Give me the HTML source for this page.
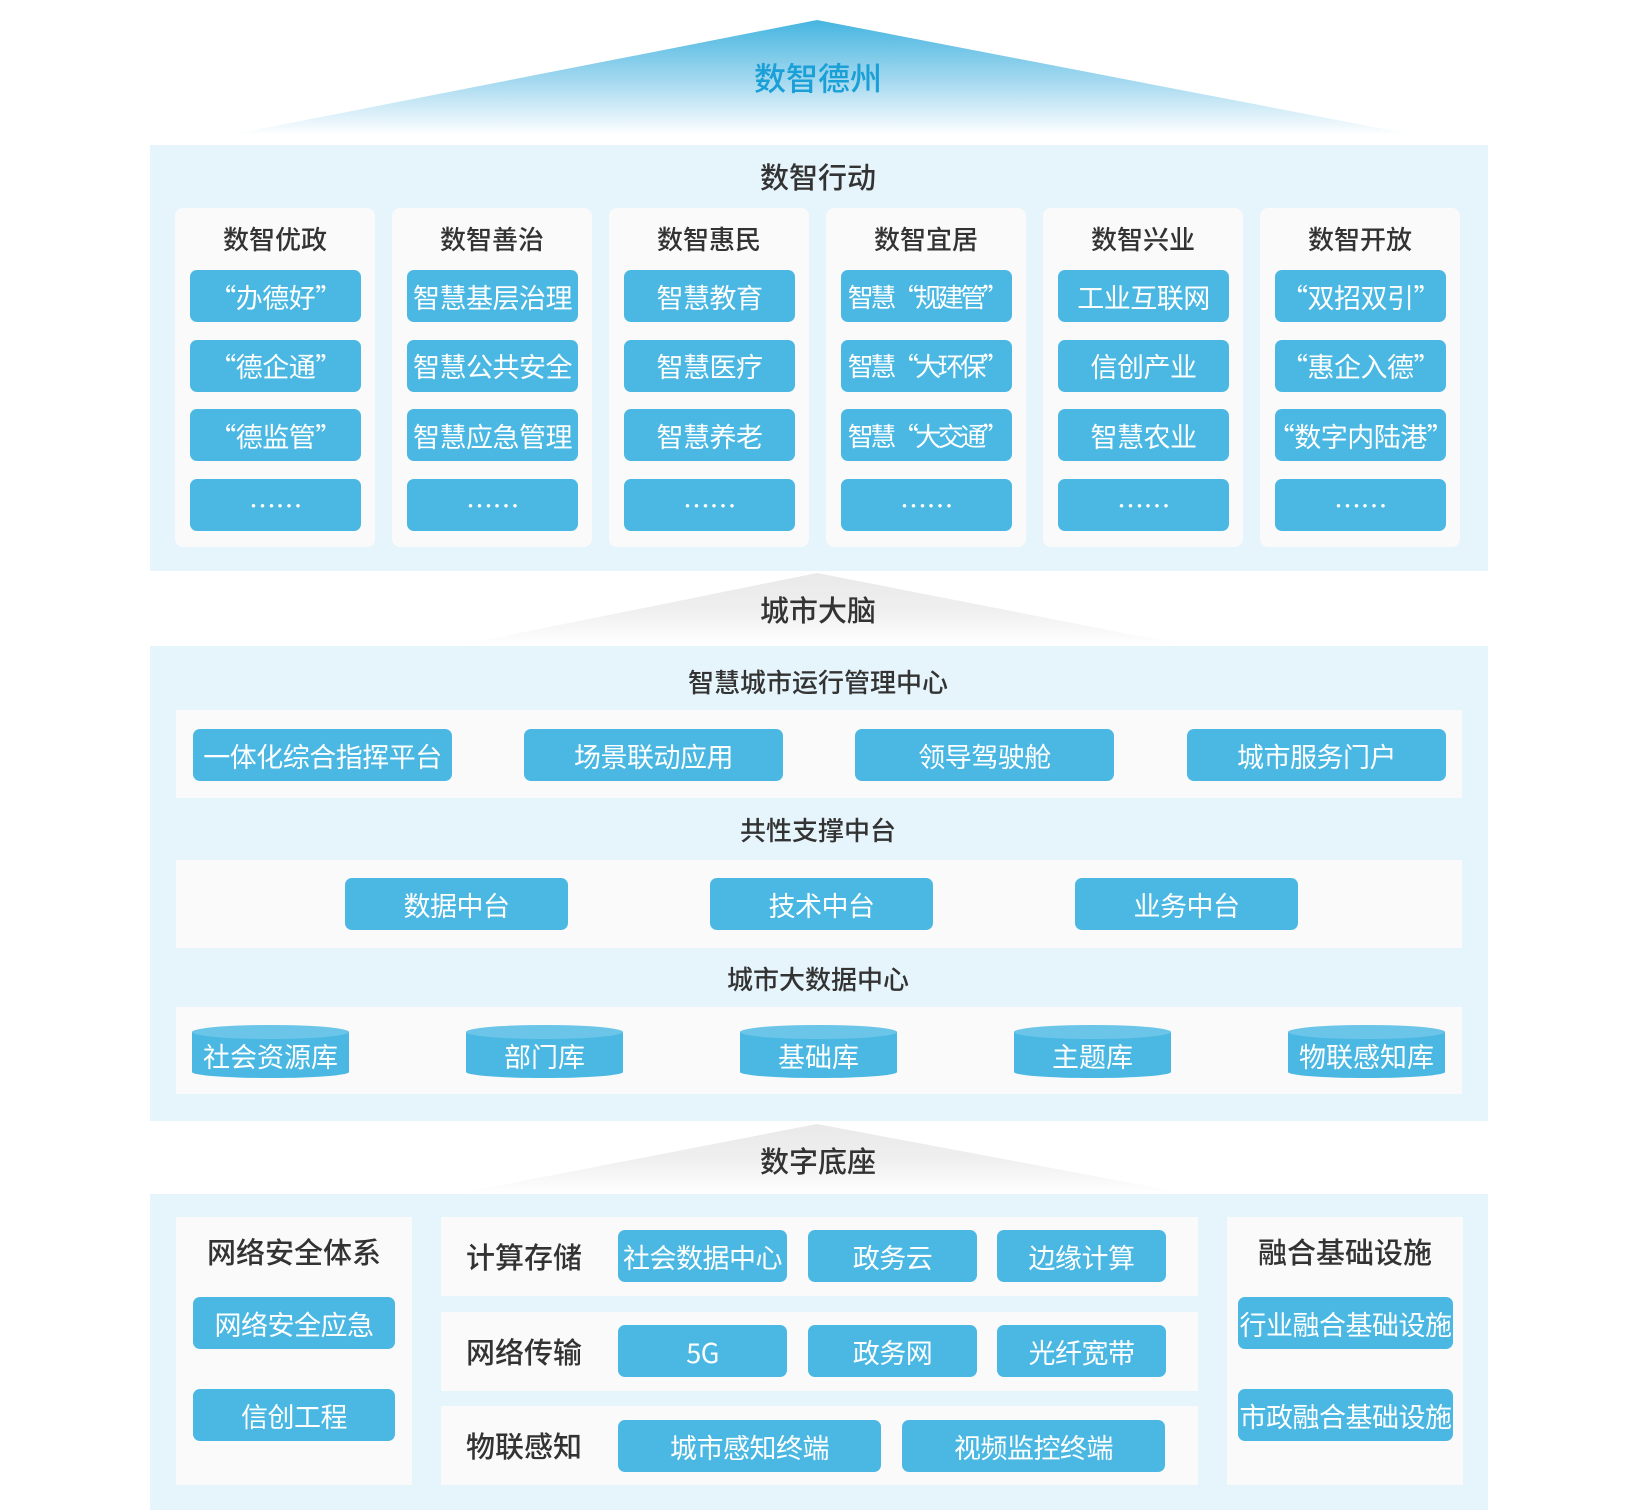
<!DOCTYPE html>
<html><head><meta charset="utf-8"><style>
*{margin:0;padding:0;box-sizing:border-box}
body{width:1626px;height:1510px;background:#fff;position:relative;overflow:hidden;font-family:"Noto Sans CJK SC","Liberation Sans",sans-serif}
.a{position:absolute}
.p{position:absolute;background:#e6f4fb}
.w{position:absolute;background:#fafafa}
.b{position:absolute;background:#4ab8e2;color:#fff;border-radius:7px;display:flex;align-items:center;justify-content:center;font-size:27px;white-space:nowrap;overflow:hidden;letter-spacing:-0.5px}
.t{position:absolute;color:#333;font-weight:500;text-align:center;white-space:nowrap}
.c{position:absolute;width:157px;height:52px;color:#fff;font-size:27px;display:flex;align-items:flex-end;justify-content:center;padding-bottom:2px}
.n{letter-spacing:-3.5px;font-size:26px}
</style></head><body>
<svg class="a" style="left:0;top:0" width="1626" height="1510">
<defs>
<linearGradient id="g1" x1="0" y1="0" x2="0" y2="1"><stop offset="0" stop-color="#45b5e0"/><stop offset="0.55" stop-color="#a8daf0"/><stop offset="1" stop-color="#ffffff"/></linearGradient>
<linearGradient id="g2" x1="0" y1="0" x2="0" y2="1"><stop offset="0" stop-color="#e9e9e9"/><stop offset="0.5" stop-color="#efefef"/><stop offset="1" stop-color="#ffffff"/></linearGradient>
</defs>
<polygon points="817,20 1415,135 229,135" fill="url(#g1)"/>
<polygon points="817,573 1190,646 455,646" fill="url(#g2)"/>
<polygon points="817,1124 1190,1194 455,1194" fill="url(#g2)"/>
</svg>
<div class="t" style="left:0;width:1636px;top:54px;font-size:32px;color:#1a9fd6">数智德州</div>

<div class="p" style="left:150px;top:145px;width:1338px;height:426px"></div>
<div class="t" style="left:0;width:1636px;top:155px;font-size:29px">数智行动</div>

<div class="p" style="left:150px;top:646px;width:1338px;height:475px"></div>
<div class="t" style="left:0;width:1636px;top:588px;font-size:29px">城市大脑</div>
<div class="t" style="left:0;width:1636px;top:663px;font-size:26px">智慧城市运行管理中心</div>
<div class="w" style="left:176px;top:710px;width:1286px;height:88px"></div>
<div class="b" style="left:193px;top:729px;width:259px;height:52px">一体化综合指挥平台</div>
<div class="b" style="left:524px;top:729px;width:259px;height:52px">场景联动应用</div>
<div class="b" style="left:855px;top:729px;width:259px;height:52px">领导驾驶舱</div>
<div class="b" style="left:1187px;top:729px;width:259px;height:52px">城市服务门户</div>
<div class="t" style="left:0;width:1636px;top:811px;font-size:26px">共性支撑中台</div>
<div class="w" style="left:176px;top:860px;width:1286px;height:88px"></div>
<div class="b" style="left:345px;top:878px;width:223px;height:52px">数据中台</div>
<div class="b" style="left:710px;top:878px;width:223px;height:52px">技术中台</div>
<div class="b" style="left:1075px;top:878px;width:223px;height:52px">业务中台</div>
<div class="t" style="left:0;width:1636px;top:960px;font-size:26px">城市大数据中心</div>
<div class="w" style="left:176px;top:1007px;width:1286px;height:87px"></div>
<svg class="a" style="left:0;top:0" width="1626" height="1510">
<g fill="#4ab8e2">
<path d="M192,1032 v40 a78,6 0 0 0 157,0 v-40 z"/><ellipse cx="270.5" cy="1032" rx="78.5" ry="7" fill="#6ac5e8"/>
<path d="M466,1032 v40 a78,6 0 0 0 157,0 v-40 z"/><ellipse cx="544.5" cy="1032" rx="78.5" ry="7" fill="#6ac5e8"/>
<path d="M740,1032 v40 a78,6 0 0 0 157,0 v-40 z"/><ellipse cx="818.5" cy="1032" rx="78.5" ry="7" fill="#6ac5e8"/>
<path d="M1014,1032 v40 a78,6 0 0 0 157,0 v-40 z"/><ellipse cx="1092.5" cy="1032" rx="78.5" ry="7" fill="#6ac5e8"/>
<path d="M1288,1032 v40 a78,6 0 0 0 157,0 v-40 z"/><ellipse cx="1366.5" cy="1032" rx="78.5" ry="7" fill="#6ac5e8"/>
</g></svg>
<div class="c" style="left:192px;top:1025px">社会资源库</div>
<div class="c" style="left:466px;top:1025px">部门库</div>
<div class="c" style="left:740px;top:1025px">基础库</div>
<div class="c" style="left:1014px;top:1025px">主题库</div>
<div class="c" style="left:1288px;top:1025px">物联感知库</div>

<div class="p" style="left:150px;top:1194px;width:1338px;height:316px"></div>
<div class="t" style="left:0;width:1636px;top:1139px;font-size:29px">数字底座</div>
<div class="w" style="left:176px;top:1217px;width:236px;height:268px"></div>
<div class="t" style="left:176px;width:236px;top:1230px;font-size:29px">网络安全体系</div>
<div class="b" style="left:193px;top:1297px;width:202px;height:52px">网络安全应急</div>
<div class="b" style="left:193px;top:1389px;width:202px;height:52px">信创工程</div>
<div class="w" style="left:1227px;top:1217px;width:236px;height:268px"></div>
<div class="t" style="left:1227px;width:236px;top:1230px;font-size:29px">融合基础设施</div>
<div class="b" style="left:1238px;top:1297px;width:215px;height:52px">行业融合基础设施</div>
<div class="b" style="left:1238px;top:1389px;width:215px;height:52px">市政融合基础设施</div>

<div class="w" style="left:441px;top:1217px;width:757px;height:79px"></div>
<div class="w" style="left:441px;top:1312px;width:757px;height:79px"></div>
<div class="w" style="left:441px;top:1406px;width:757px;height:79px"></div>
<div class="t" style="left:466px;top:1235px;font-size:29px;text-align:left">计算存储</div>
<div class="t" style="left:466px;top:1330px;font-size:29px;text-align:left">网络传输</div>
<div class="t" style="left:466px;top:1424px;font-size:29px;text-align:left">物联感知</div>
<div class="b" style="left:618px;top:1230px;width:169px;height:52px">社会数据中心</div>
<div class="b" style="left:808px;top:1230px;width:169px;height:52px">政务云</div>
<div class="b" style="left:997px;top:1230px;width:169px;height:52px">边缘计算</div>
<div class="b" style="left:618px;top:1325px;width:169px;height:52px">5G</div>
<div class="b" style="left:808px;top:1325px;width:169px;height:52px">政务网</div>
<div class="b" style="left:997px;top:1325px;width:169px;height:52px">光纤宽带</div>
<div class="b" style="left:618px;top:1420px;width:263px;height:52px">城市感知终端</div>
<div class="b" style="left:902px;top:1420px;width:263px;height:52px">视频监控终端</div>

<div id="cols"></div>
<script>
var d=[["数智优政","“办德好”","“德企通”","“德监管”"],["数智善治","智慧基层治理","智慧公共安全","智慧应急管理"],["数智惠民","智慧教育","智慧医疗","智慧养老"],["数智宜居","<span class='n'>智慧“规建管”</span>","<span class='n'>智慧“大环保”</span>","<span class='n'>智慧“大交通”</span>"],["数智兴业","工业互联网","信创产业","智慧农业"],["数智开放","“双招双引”","“惠企入德”","“数字内陆港”"]];
var h="";
d.forEach(function(c,i){var x=175+i*217;
h+='<div class="w" style="left:'+x+'px;top:208px;width:200px;height:339px;border-radius:8px"></div>';
h+='<div class="t" style="left:'+x+'px;width:200px;top:220px;font-size:26px">'+c[0]+'</div>';
for(var j=0;j<4;j++){h+='<div class="b" style="left:'+(x+15)+'px;top:'+(270+j*69.5)+'px;width:171px;height:52px">'+(j<3?c[j+1]:'……')+'</div>';}
});
document.getElementById("cols").innerHTML=h;
</script>
</body></html>
